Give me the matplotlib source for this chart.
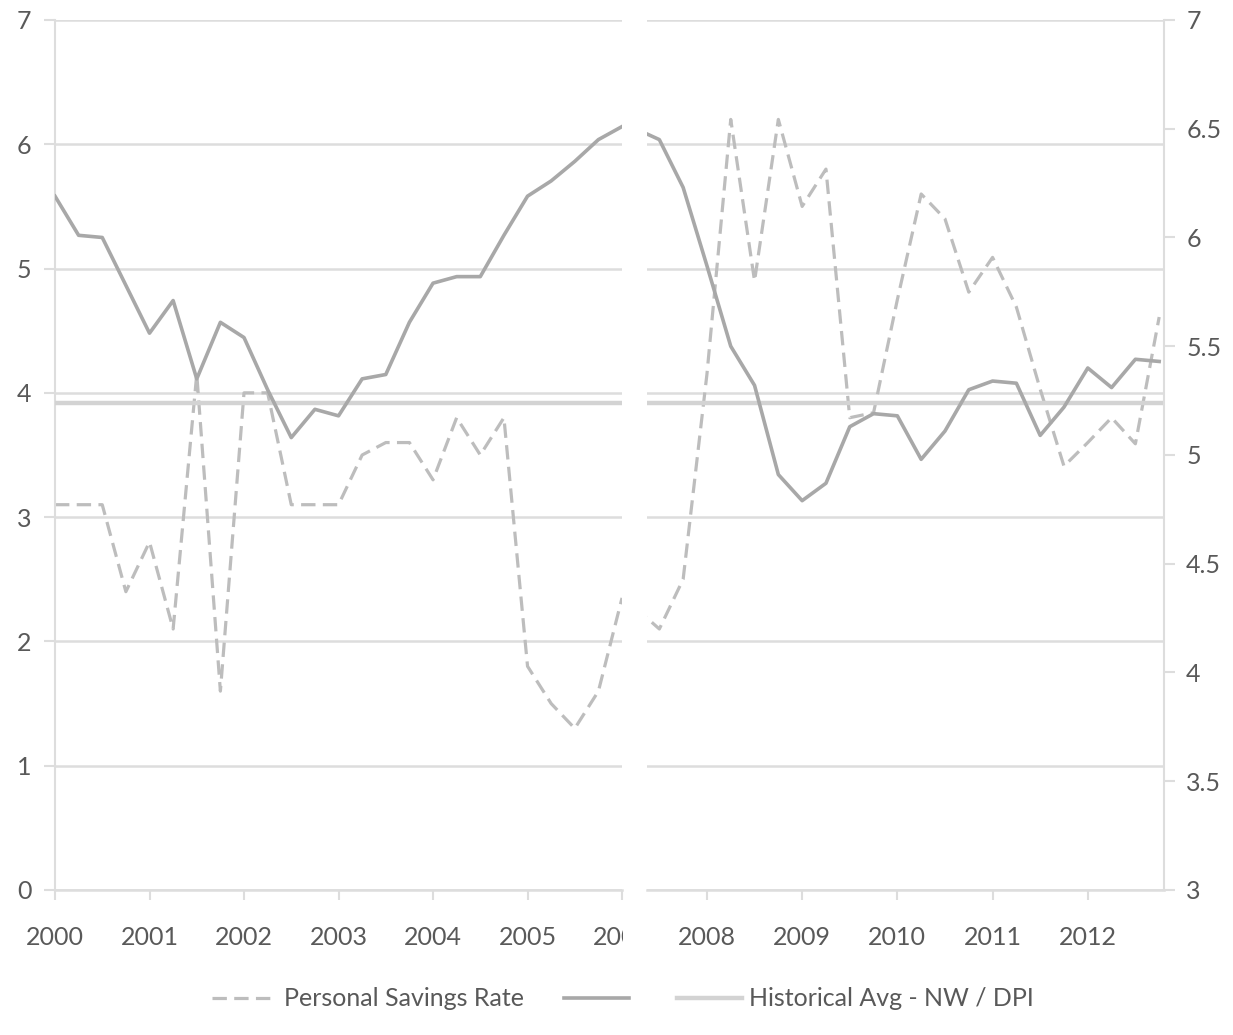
import numpy as np
import matplotlib.pyplot as plt
from matplotlib.transforms import Bbox, TransformedBbox

plt.rcParams['font.family'] = ['Lato', 'DejaVu Sans']

# quarterly data, 2000Q1 - 2006Q1 (left) and 2007Q2 - 2012Q4 (right)
x_left = 2000 + 0.25 * np.arange(25)
savings_left = [3.1, 3.1, 3.1, 2.4, 2.8, 2.1, 4.15, 1.6, 4.0, 4.0, 3.1, 3.1, 3.1,
                3.5, 3.6, 3.6, 3.3, 3.8, 3.5, 3.8, 1.8, 1.5, 1.3, 1.6, 2.35]
nwdpi_left = [6.19, 6.01, 6.00, 5.78, 5.56, 5.71, 5.35, 5.61, 5.54, 5.30, 5.08, 5.21, 5.18,
              5.35, 5.37, 5.61, 5.79, 5.82, 5.82, 6.01, 6.19, 6.26, 6.35, 6.45, 6.51]

x_right = 2007.25 + 0.25 * np.arange(23)
savings_right = [2.27, 2.1, 2.5, 4.15, 6.2, 4.9, 6.2, 5.5, 5.8, 3.8, 3.84, 4.75, 5.6,
                 5.4, 4.81, 5.09, 4.69, 4.03, 3.41, 3.6, 3.8, 3.59, 4.61]
nwdpi_right = [6.50, 6.45, 6.23, 5.87, 5.50, 5.32, 4.91, 4.79, 4.87, 5.13, 5.19, 5.18,
               4.98, 5.11, 5.30, 5.34, 5.33, 5.09, 5.22, 5.40, 5.31, 5.44, 5.43]

hist_avg = 5.24

left_years = [2000, 2001, 2002, 2003, 2004, 2005, 2006]
right_years = [2008, 2009, 2010, 2011, 2012]

c_text = '#595959'
c_grid = '#dddddd'
c_dash = '#bdbdbd'
c_solid = '#a8a8a8'
c_hist = '#d3d3d3'
fs = 18

fig = plt.figure(figsize=(12.33, 10.35), dpi=100)
ax1 = fig.add_axes([0.0446, 0.1401, 0.4599, 0.8406])
ax2 = fig.add_axes([0.5247, 0.1401, 0.4193, 0.8406])

def style_primary(ax):
    ax.set_ylim(0, 7)
    ax.set_yticks(range(8))
    ax.grid(axis='y', color=c_grid, lw=1.8)
    ax.set_axisbelow(True)
    for s in ['top', 'right', 'left']:
        ax.spines[s].set_visible(False)
    ax.spines['bottom'].set_color(c_grid)
    ax.spines['bottom'].set_linewidth(1.8)
    ax.tick_params(axis='x', colors=c_grid, length=7, width=1.5, pad=19,
                   labelcolor=c_text, labelsize=fs)

# left panel
style_primary(ax1)
ax1.spines['left'].set_visible(True)
ax1.spines['left'].set_color(c_grid)
ax1.spines['left'].set_linewidth(1.5)
ax1.tick_params(axis='y', colors=c_grid, length=8, width=1.5, pad=9,
                labelcolor=c_text, labelsize=fs)
ax1.set_xlim(2000, 2006)
ax1.set_xticks(left_years)
ax1.plot(x_left, savings_left, color=c_dash, lw=2.3, ls=(0, (4.5, 2.3)))
ax1t = ax1.twinx()
ax1t.set_ylim(3, 7)
ax1t.axis('off')
ax1t.axhline(hist_avg, color=c_hist, lw=3.2)
ax1t.plot(x_left, nwdpi_left, color=c_solid, lw=2.6)

# right panel
style_primary(ax2)
ax2.set_xlim(2007.37, 2012.80)
ax2.set_xticks(right_years)
ax2.plot(x_right, savings_right, color=c_dash, lw=2.3, ls=(0, (4.5, 2.3)))
ax2t = ax2.twinx()
ax2.tick_params(axis='y', left=False, right=False, labelleft=False, labelright=False)
ax2t.set_ylim(3, 7)
ax2t.set_yticks(np.arange(3, 7.01, 0.5))
ax2t.set_yticklabels(['3', '3.5', '4', '4.5', '5', '5.5', '6', '6.5', '7'])
for s in ['top', 'left', 'bottom']:
    ax2t.spines[s].set_visible(False)
ax2t.spines['right'].set_color(c_grid)
ax2t.spines['right'].set_linewidth(1.5)
ax2t.tick_params(axis='y', colors=c_grid, length=8, width=1.5, pad=8,
                 labelcolor=c_text, labelsize=fs)
ax2t.axhline(hist_avg, color=c_hist, lw=3.2)
ax2t.plot(x_right, nwdpi_right, color=c_solid, lw=2.6)

# the 2006 label is cut off at the panel edge
clip = TransformedBbox(Bbox([[0, 0], [0.5055, 1]]), fig.transFigure)
for lab in ax1.get_xticklabels():
    lab.set_clip_box(clip)
    lab.set_clip_on(True)

h1, = ax1.plot([], [], color=c_dash, lw=2.3, ls=(0, (4.5, 2.3)))
h2, = ax1.plot([], [], color=c_solid, lw=2.6)
h3, = ax1.plot([], [], color=c_hist, lw=3.2)
fig.legend([h1, h2, h3], ['Personal Savings Rate', '', 'Historical Avg - NW / DPI'],
           loc='center', bbox_to_anchor=(0.505, 0.035), ncol=3, frameon=False,
           fontsize=fs, labelcolor=c_text, handlelength=2.6, handletextpad=0.3,
           columnspacing=1.6)

fig.savefig('out.png', dpi=100)
